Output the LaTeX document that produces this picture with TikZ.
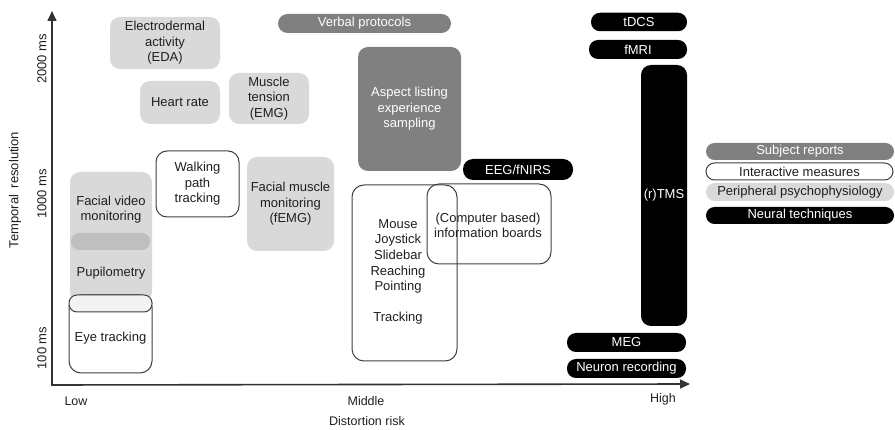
\documentclass[tikz,border=0pt]{standalone}
\usepackage{fontspec}
\setmainfont{Liberation Sans}
\usetikzlibrary{arrows.meta}
\definecolor{lgray}{HTML}{D9D9D9}
\definecolor{dgray}{HTML}{808080}
\definecolor{mgray}{HTML}{BFBFBF}
\definecolor{vlgray}{HTML}{F2F2F2}
\definecolor{edgec}{HTML}{404040}
\definecolor{txt}{HTML}{1F1F1F}
\begin{document}
\begin{tikzpicture}[x=1pt,y=-1pt,
  boxbase/.style={rectangle,inner sep=0pt,align=center,font=\fontsize{13}{15.6}\selectfont,text=txt},
  periph/.style={boxbase,fill=lgray,rounded corners=10pt},
  interact/.style={boxbase,fill=white,draw=edgec,line width=1pt,rounded corners=11pt},
  openbox/.style={boxbase,draw=edgec,line width=1pt,rounded corners=12pt},
  subj/.style={boxbase,fill=dgray,text=white,rounded corners=10pt},
  neural/.style={boxbase,fill=black,text=white,rounded corners=9pt},
  plain/.style={inner sep=0pt,align=center,font=\fontsize{13}{15.6}\selectfont,text=txt},
  axlab/.style={inner sep=0pt,font=\fontsize{12.5}{14}\selectfont,text=txt},
  rotlab/.style={inner sep=0pt,font=\fontsize{13}{15}\selectfont,text=txt,rotate=90},
  axis/.style={draw=edgec!80!black,line width=1.6pt,-{Triangle[length=10pt,width=9pt]}}
]
\useasboundingbox (0,0) rectangle (895,430);

% axes
\coordinate (origin) at (52,385);
\coordinate (ytip) at (52,11);
\coordinate (xtip) at (690,384);
\draw[axis] (origin) -- (ytip);
\draw[axis] ([xshift=-0.8pt]origin) -- (xtip);

% axis labels
\node[rotlab] (t2000) at (42,59) {2000 ms};
\node[rotlab] (t1000) at (42,194) {1000 ms};
\node[rotlab] (t100) at (42,348) {100 ms};
\node[rotlab] (ylab) at (15,190) {Temporal\hspace{3pt} resolution};
\node[axlab] (low) at (76,401) {Low};
\node[axlab] (mid) at (366,401) {Middle};
\node[axlab] (high) at (663,399) {High};
\node[axlab] (xlab) at (367,421) {Distortion risk};

% peripheral psychophysiology
\node[periph,minimum width=110pt,minimum height=52pt] (eda) at (165,43) {Electrodermal\\activity\\(EDA)};
\node[periph,minimum width=80pt,minimum height=43pt] (hr) at (180,102.5) {Heart rate};
\node[periph,minimum width=80pt,minimum height=51pt] (emg) at (269,98.5) {Muscle\\tension\\(EMG)};
\node[periph,minimum width=87pt,minimum height=94pt] (femg) at (290.5,204) {Facial muscle\\monitoring\\(fEMG)};

% facial video / pupilometry / eye tracking column
\node[periph,minimum width=82pt,minimum height=130pt] (facecol) at (111,237) {};
\node[plain] (facetxt) at (111,209.5) {Facial video\\monitoring};
\node[boxbase,fill=mgray,rounded corners=8pt,minimum width=79pt,minimum height=17pt] (facepill) at (110.5,241.5) {};
\node[plain] (pupil) at (111,273) {Pupilometry};
\node[interact,rounded corners=12pt,minimum width=83pt,minimum height=78pt] (eyebody) at (110.5,334) {};
\node[interact,fill=vlgray,rounded corners=8pt,minimum width=83pt,minimum height=17pt] (eyetop) at (110.5,303.5) {};
\node[plain] (eyetxt) at (110.5,338) {Eye tracking};

% interactive measures
\node[interact,minimum width=83pt,minimum height=66pt] (walk) at (197.5,184) {Walking\\path\\tracking};
\node[openbox,minimum width=105pt,minimum height=176pt] (mouse) at (404.5,273) {};
\node[plain] (mousetxt) at (398,272) {Mouse\\Joystick\\Slidebar\\Reaching\\Pointing\\[15.6pt]Tracking};
\node[openbox,minimum width=124pt,minimum height=80pt] (boards) at (489,224) {};
\node[plain] (boardstxt) at (488,225.5) {(Computer based)\\information boards};

% subject reports
\node[subj,rounded corners=9.5pt,minimum width=173pt,minimum height=19pt] (verbal) at (364.5,23.5) {Verbal protocols};
\node[subj,minimum width=103pt,minimum height=124pt] (aspect) at (409.5,109) {Aspect listing\\experience\\sampling};

% neural techniques
\node[neural,rounded corners=10pt,minimum width=110pt,minimum height=21pt] (eeg) at (518,169.5) {EEG/fNIRS};
\node[neural,minimum width=96pt,minimum height=18.5pt] (tdcs) at (639,22) {tDCS};
\node[neural,minimum width=98pt,minimum height=19pt] (fmri) at (638,49.5) {fMRI};
\node[neural,rounded corners=10pt,minimum width=46pt,minimum height=261pt] (tms) at (664,195.5) {(r)TMS};
\node[neural,minimum width=119pt,minimum height=19pt] (meg) at (626.5,342.5) {MEG};
\node[neural,minimum width=119pt,minimum height=19pt] (neuron) at (626.5,368.5) {Neuron recording};

% legend
\node[subj,rounded corners=8.5pt,minimum width=188pt,minimum height=17pt] (lsubj) at (800,151.5) {Subject reports};
\node[interact,rounded corners=8.5pt,minimum width=187pt,minimum height=17pt] (linter) at (799.5,171.5) {Interactive measures};
\node[periph,rounded corners=9pt,minimum width=188pt,minimum height=18pt] (lperiph) at (800,192) {Peripheral psychophysiology};
\node[neural,rounded corners=8.5pt,minimum width=188pt,minimum height=17pt] (lneural) at (800,215.5) {Neural techniques};
\end{tikzpicture}
\end{document}
